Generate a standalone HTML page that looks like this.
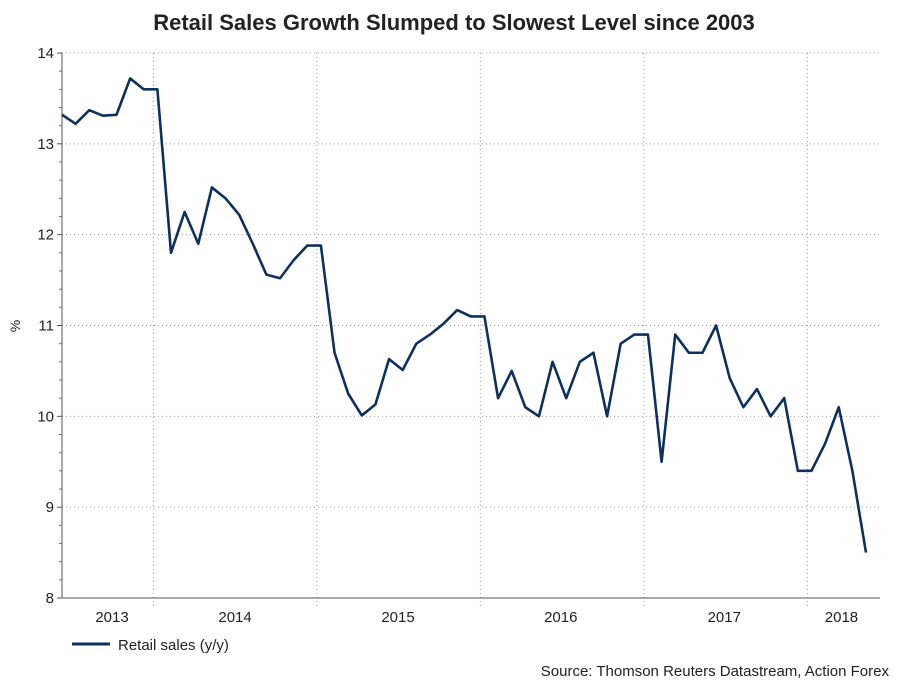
<!DOCTYPE html>
<html><head><meta charset="utf-8"><style>
body{margin:0;background:#fff;width:909px;height:682px;overflow:hidden;font-family:"Liberation Sans",Arial,sans-serif}
</style></head><body>
<svg id="chart" width="909" height="682" font-family="Liberation Sans, Arial, sans-serif">
<text x="454" y="30" text-anchor="middle" font-size="22" font-weight="bold" fill="#222">Retail Sales Growth Slumped to Slowest Level since 2003</text>
<text x="20" y="326" font-size="14" fill="#222" transform="rotate(-90 20 326)" text-anchor="middle">%</text>
<g id="grid"></g><g id="axes"></g><g id="series"></g>
<line x1="72" y1="644" x2="110" y2="644" stroke="#0d3060" stroke-width="3"/>
<text x="118" y="650" font-size="15" fill="#222">Retail sales (y/y)</text>
<text x="889" y="676" font-size="15" fill="#222" text-anchor="end">Source: Thomson Reuters Datastream, Action Forex</text>
</svg>
<script>
const values=[13.32,13.22,13.37,13.31,13.32,13.72,13.6,13.6,11.8,12.25,11.9,12.52,12.4,12.22,11.9,11.56,11.52,11.72,11.88,11.88,10.7,10.25,10.01,10.13,10.63,10.51,10.8,10.9,11.02,11.17,11.1,11.1,10.2,10.5,10.1,10.0,10.6,10.2,10.6,10.7,10.0,10.8,10.9,10.9,9.5,10.9,10.7,10.7,11.0,10.42,10.1,10.3,10.0,10.2,9.4,9.4,9.7,10.1,9.4,8.5];
const yTicks=[8,9,10,11,12,13,14];
const yearLabels=["2013","2014","2015","2016","2017","2018"];
const yearLabelIdx=[3.67,12.7,24.66,36.6,48.6,57.2];
const yearBoundIdx=[6.7,18.7,30.7,42.7,54.7];
const NS="http://www.w3.org/2000/svg";
const L=62,R=880,T=53,B=598;
const xs=i=>62+i*(804/59);
const ys=v=>B-(v-8)*(B-T)/6;
function mk(t,a,p){const e=document.createElementNS(NS,t);for(const k in a)e.setAttribute(k,a[k]);p.appendChild(e);return e;}
const grid=document.getElementById('grid'),axes=document.getElementById('axes'),ser=document.getElementById('series');
yTicks.forEach(v=>{
 if(v>8){const g=mk('line',{x1:L,x2:R,y1:ys(v),y2:ys(v),stroke:'#999','stroke-dasharray':'1,3'},grid);
 
 }
 const t=mk('text',{x:L-8,y:ys(v)+5,'text-anchor':'end','font-size':15,fill:'#222'},axes);t.textContent=v;
 
 
 mk('line',{x1:L-5,x2:L,y1:ys(v),y2:ys(v),stroke:'#555'},axes);
 if(v<14)for(let k=1;k<5;k++)mk('line',{x1:L-3,x2:L,y1:ys(v+k/5),y2:ys(v+k/5),stroke:'#777'},axes);
});
yearBoundIdx.forEach(i=>{const g=mk('line',{x1:xs(i),x2:xs(i),y1:T,y2:B+8,stroke:'#999','stroke-dasharray':'1,3'},grid);
 
 });
yearLabels.forEach((s,j)=>{const t=mk('text',{x:xs(yearLabelIdx[j]),y:622,'text-anchor':'middle','font-size':15,fill:'#222'},axes);t.textContent=s;
 
 });
mk('line',{x1:L,x2:L,y1:T,y2:B,stroke:'#555'},axes);
mk('line',{x1:L,x2:R,y1:B,y2:B,stroke:'#555'},axes);
const p=mk('polyline',{points:values.map((v,i)=>xs(i)+','+ys(v)).join(' '),fill:'none',stroke:'#0d3060','stroke-width':2.6,'stroke-linejoin':'round'},ser);


</script>
</body></html>
